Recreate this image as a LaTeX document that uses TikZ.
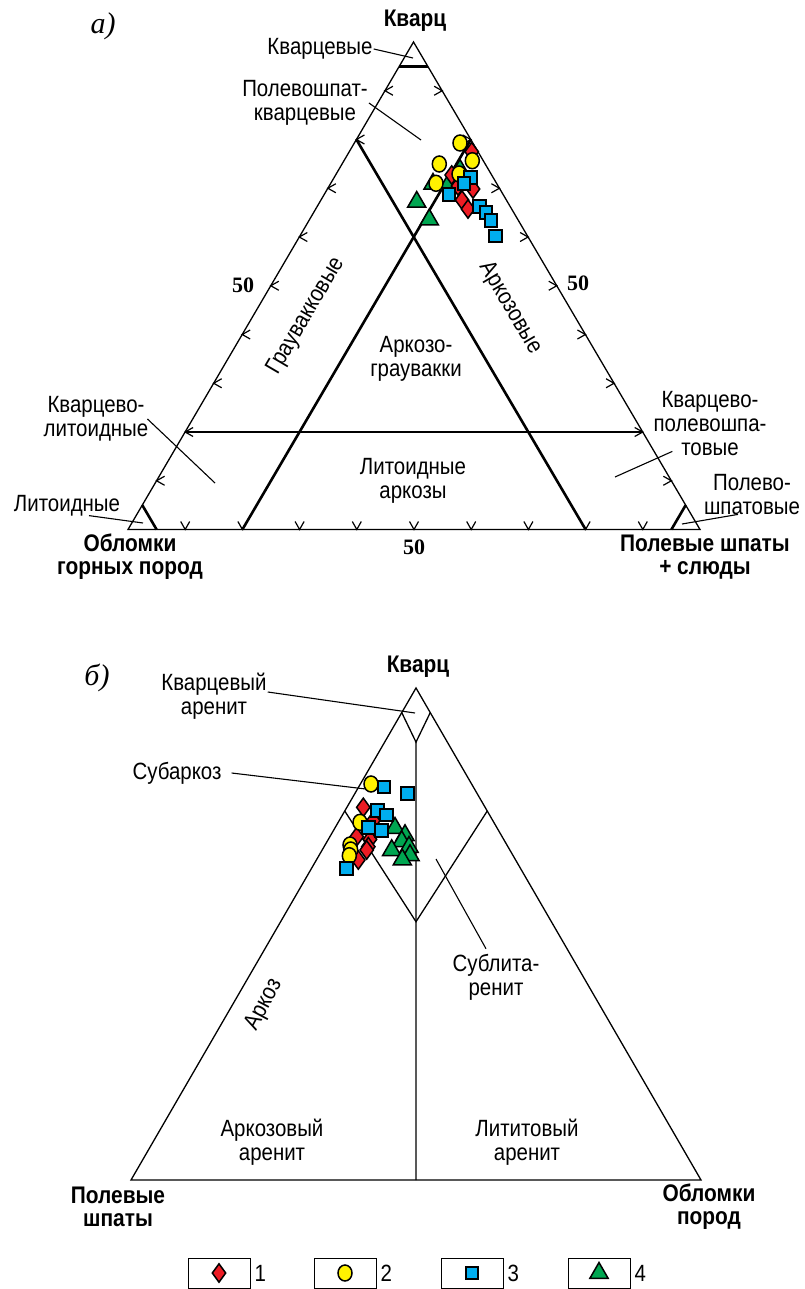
\documentclass[tikz,border=0pt]{standalone}
\usepackage{fontspec}
\setmainfont{Liberation Sans}[FakeStretch=0.87]
\newfontfamily\timesfont{Liberation Serif}
\usepackage{xcolor}
\usetikzlibrary{shapes.geometric,calc}

\definecolor{mred}{HTML}{ED1C24}
\definecolor{myellow}{HTML}{FFF200}
\definecolor{mblue}{HTML}{00AEEF}
\definecolor{mgreen}{HTML}{00A651}

\begin{document}
\begin{tikzpicture}[
  x=1pt, y=-1pt,
  lbl/.style={align=center, font=\fontsize{23.5}{24}\selectfont, inner sep=1pt},
  apex/.style={align=center, font=\fontsize{24}{23}\selectfont\bfseries, inner sep=1pt},
  num/.style={font=\fontsize{22}{24}\selectfont\timesfont\bfseries, inner sep=0pt},
  tag/.style={font=\fontsize{30}{32}\selectfont\timesfont\itshape, inner sep=0pt},
  edge/.style={line width=1.3pt},
  zone/.style={line width=2.6pt},
  leader/.style={line width=1.1pt},
  tickm/.style={line width=1.2pt},
  mkdia/.style={diamond, draw, line width=1.5pt, fill=mred, minimum width=14pt, minimum height=19pt, inner sep=0pt},
  mkcirc/.style={ellipse, draw, line width=1.5pt, fill=myellow, minimum width=14pt, minimum height=16pt, inner sep=0pt},
  mksq/.style={rectangle, draw, line width=2pt, fill=mblue, minimum size=12.5pt, inner sep=0pt},
  mktri/.style={regular polygon, regular polygon sides=3, draw, line width=1.5pt, fill=mgreen, minimum size=21pt, inner sep=0pt},
  keybox/.style={rectangle, draw, line width=0.9pt, minimum width=62pt, minimum height=30pt}
]
\path[use as bounding box] (0,0) rectangle (804,1289);

% ---------------- a) ----------------
\coordinate (aQ) at (413.5,42);
\coordinate (aR) at (128,529.5);
\coordinate (aF) at (700,529.5);

\draw[edge] (aQ) -- (aR) -- (aF) -- cycle;

% ticks every 10%
\foreach \k in {1,...,9}{
  \pgfmathsetmacro\q{\k/10}
  \pgfmathsetmacro\p{1-\k/10}
  \coordinate (tl\k) at (barycentric cs:aQ=\q,aR=\p);
  \coordinate (tr\k) at (barycentric cs:aQ=\q,aF=\p);
  \coordinate (tb\k) at (barycentric cs:aF=\q,aR=\p);
  \draw[tickm] (tl\k) ++(8,-4.5) -- (tl\k) -- ++(8,4.5);
  \draw[tickm] (tr\k) ++(-8,-4.5) -- (tr\k) -- ++(-8,4.5);
  \draw[tickm] (tb\k) ++(-4.5,-8) -- (tb\k) -- ++(4.5,-8);
}

% field boundaries
\draw[zone] (barycentric cs:aQ=.95,aR=.05) -- (barycentric cs:aQ=.95,aF=.05);
\draw[zone] (barycentric cs:aQ=.8,aR=.2) -- (barycentric cs:aR=.2,aF=.8);
\draw[zone] (barycentric cs:aQ=.8,aF=.2) -- (barycentric cs:aR=.8,aF=.2);
\draw[zone] (barycentric cs:aQ=.2,aR=.8) -- (barycentric cs:aQ=.2,aF=.8);
\draw[zone] (barycentric cs:aQ=.05,aR=.95) -- (barycentric cs:aR=.95,aF=.05);
\draw[zone] (barycentric cs:aQ=.05,aF=.95) -- (barycentric cs:aR=.05,aF=.95);

% labels
\node[tag] (tagA) at (103,26) {а)};
\node[apex] (qzA) at (415,21) {Кварц};
\node[apex] (rockA) at (130,557) {Обломки\\горных пород};
\node[apex] (fspA) at (705,557) {Полевые шпаты\\+ слюды};
\node[num] (n50l) at (243,285) {50};
\node[num] (n50r) at (578,283) {50};
\node[num] (n50b) at (414,547) {50};

\node[lbl] (kvc) at (320,49) {Кварцевые};
\node[lbl] (pkv) at (305,103) {Полевошпат-\\кварцевые};
\node[lbl, rotate=59.6] (grw) at (306,316) {Граувакковые};
\node[lbl, rotate=-59.6] (arkA) at (510,308) {Аркозовые};
\node[lbl] (agr) at (416,359) {Аркозо-\\граувакки};
\node[lbl] (kli) at (96,419) {Кварцево-\\литоидные};
\node[lbl] (lar) at (413,481) {Литоидные\\аркозы};
\node[lbl] (lit) at (67,506) {Литоидные};
\node[lbl] (kpl) at (710,424) {Кварцево-\\полевошпа-\\товые};
\node[lbl] (psh) at (752,495) {Полево-\\шпатовые};

% leaders
\coordinate (cKvc) at (413,58);
\coordinate (cPkv) at (421,140);
\coordinate (cKli) at (215,483);
\coordinate (cLit) at (143,523);
\coordinate (cKpl) at (615,477);
\coordinate (cPsh) at (682,524);
\draw[leader] (kvc.east) -- (cKvc);
\draw[leader] (pkv.east) -- (cPkv);
\draw[leader] ([xshift=-2pt]kli.east) -- (cKli);
\draw[leader] ([xshift=22pt,yshift=2pt]lit.south) -- (cLit);
\draw[leader] ([xshift=20pt,yshift=6pt]kpl.south west) -- (cKpl);
\draw[leader] ([xshift=-14pt,yshift=2pt]psh.south) -- (cPsh);

% data
\foreach \x/\y [count=\i] in {460/168, 433/182, 448/183, 416.7/200, 429.3/217.7}
  \node[mktri] (ta\i) at (\x,\y+2) {};
\foreach \x/\y [count=\i] in {471.7/151.7, 451.7/175, 458/186, 473/189, 462/200, 468/209}
  \node[mkdia] (da\i) at (\x,\y) {};
\foreach \x/\y [count=\i] in {460/143, 439.3/164, 472.3/160.7, 459/174, 436/183.3}
  \node[mkcirc] (ca\i) at (\x,\y) {};
\foreach \x/\y [count=\i] in {470.7/177.3, 464/183.3, 449/194.3, 479.3/206.7, 486/212.7, 491/220.7, 495.7/236}
  \node[mksq] (sa\i) at (\x,\y) {};

% ---------------- b) ----------------
\coordinate (bQ) at (416,688);
\coordinate (bF) at (131,1180);
\coordinate (bR) at (701,1180);

\draw[edge] (bQ) -- (bF) -- (bR) -- cycle;

\coordinate (v1) at (barycentric cs:bQ=.89,bF=.055,bR=.055);
\coordinate (v2) at (barycentric cs:bQ=.525,bF=.2375,bR=.2375);
\coordinate (bmid) at ($(bF)!.5!(bR)$);
\draw[edge] (barycentric cs:bQ=.95,bF=.05) -- (v1) -- (barycentric cs:bQ=.95,bR=.05);
\draw[edge] (barycentric cs:bQ=.75,bF=.25) -- (v2) -- (barycentric cs:bQ=.75,bR=.25);
\draw[edge] (v1) -- (bmid);

% labels
\node[tag] (tagB) at (97,678) {б)};
\node[apex] (qzB) at (418,667) {Кварц};
\node[apex] (fspB) at (118,1207) {Полевые\\шпаты};
\node[apex] (rockB) at (709,1207) {Обломки\\пород};

\node[lbl] (kar) at (214,696) {Кварцевый\\аренит};
\node[lbl] (sbk) at (177,773) {Субаркоз};
\node[lbl] (slt) at (496,977) {Сублита-\\ренит};
\node[lbl, rotate=62] (arkB) at (264,1005) {Аркоз};
\node[lbl] (aar) at (272,1142) {Аркозовый\\аренит};
\node[lbl] (lar2) at (527,1142) {Лититовый\\аренит};

\coordinate (cKar) at (415,713);
\coordinate (cSbk) at (374,790);
\coordinate (cSlt) at (436,859);
\draw[leader] ([yshift=4pt]kar.east) -- (cKar);
\draw[leader] ([xshift=9pt]sbk.east) -- (cSbk);
\draw[leader] ([xshift=-10pt,yshift=4pt]slt.north) -- (cSlt);

% data
\foreach \x/\y [count=\i] in {395/826, 405/833.3, 401.7/839.3, 409/845, 391.7/848.3, 410/853.3, 402.3/857.7}
  \node[mktri] (tb\i) at (\x,\y+2) {};
\foreach \x/\y [count=\i] in {363.3/807.3, 373.3/820.7, 356.7/836.7, 370/839.3, 368.3/846.7, 366.7/850, 358.3/860}
  \node[mkdia] (db\i) at (\x,\y) {};
\foreach \x/\y [count=\i] in {371/784, 360/822.3, 350/845, 350.7/850, 349.3/855.7}
  \node[mkcirc] (cb\i) at (\x,\y) {};
\foreach \x/\y [count=\i] in {384/787, 407.3/793.3, 377.3/810.7, 386.7/815, 368.3/827.3, 381.7/830.7, 346.7/868.3}
  \node[mksq] (sb\i) at (\x,\y) {};

% key
\foreach \x/\m [count=\i] in {219/mkdia, 345/mkcirc, 472/mksq, 599/mktri}{
  \node[keybox] (key\i) at (\x,1273) {};
  \node[\m] (keym\i) at (key\i) {};
  \node[lbl, anchor=west] (keyn\i) at ([xshift=3pt]key\i.east) {\i};
}
\end{tikzpicture}
\end{document}
